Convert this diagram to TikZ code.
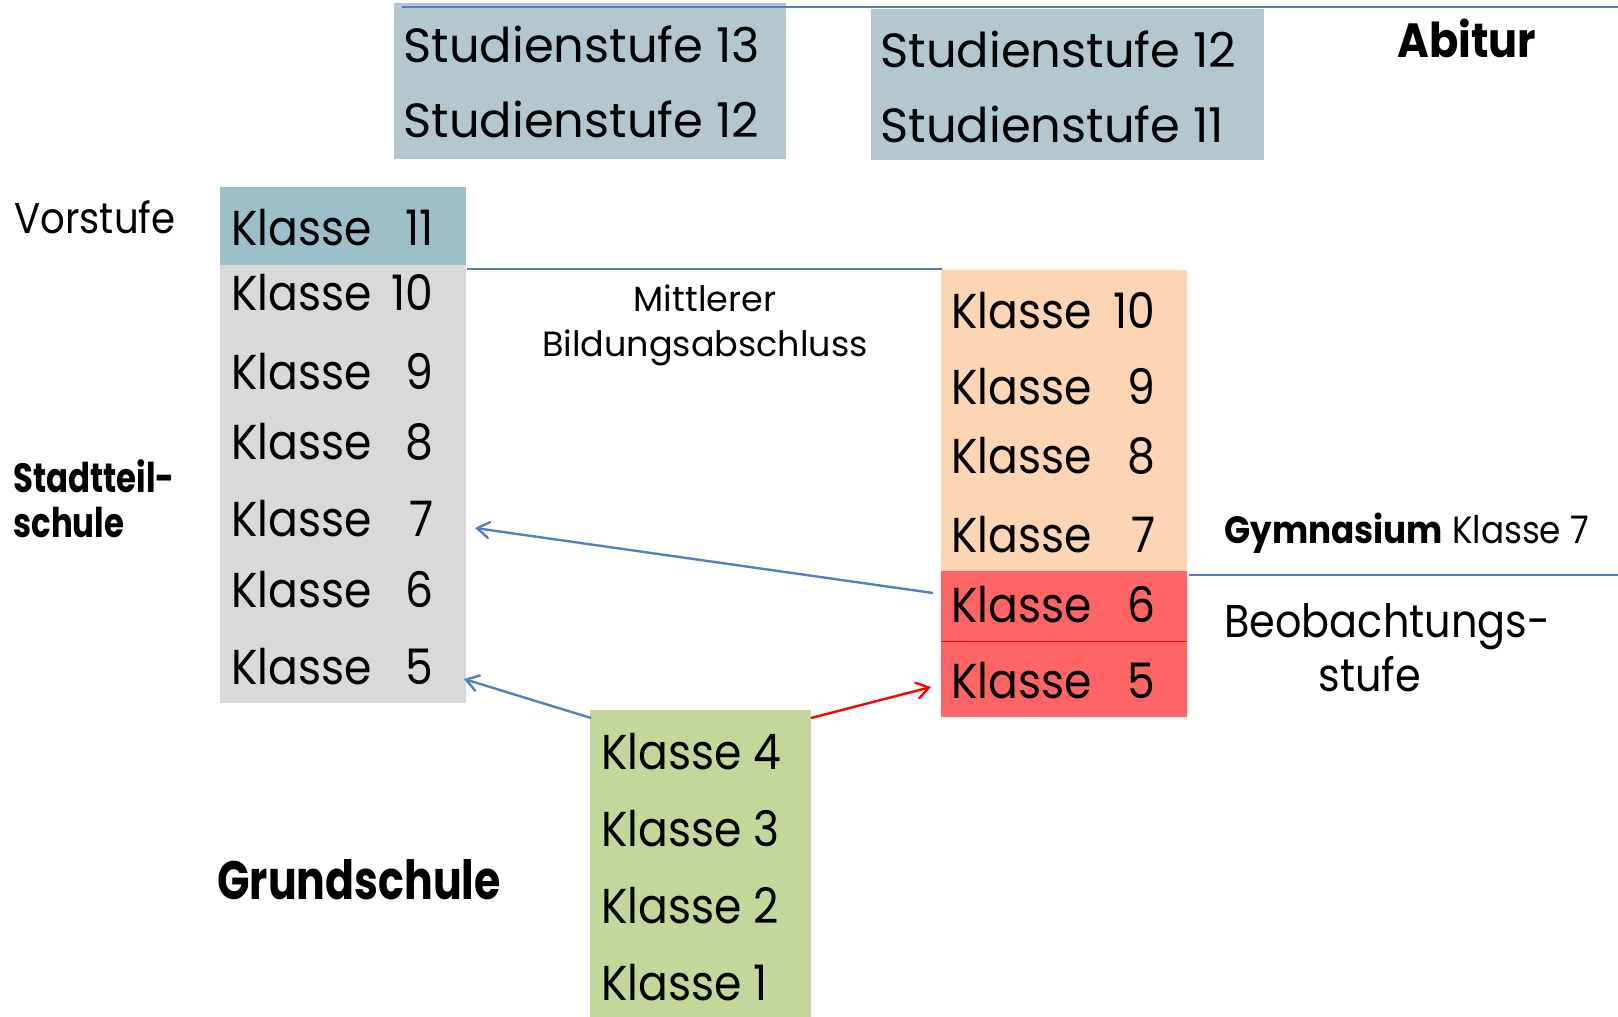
\documentclass[tikz,border=0pt]{standalone}
\usepackage{fontspec}
\setmainfont{Poppins}
\newfontfamily\cgn{Poppins}[FakeStretch=0.9]
\newfontfamily\cgc{Poppins}[FakeStretch=0.79]
\usetikzlibrary{arrows.meta}
\definecolor{studien}{HTML}{B4C7CE}
\definecolor{kelf}{HTML}{9DBFCA}
\definecolor{grau}{HTML}{D9D9D9}
\definecolor{orng}{HTML}{FCD5B5}
\definecolor{rot}{HTML}{FF6565}
\definecolor{gruen}{HTML}{C4D79B}
\definecolor{blau}{HTML}{4F81BD}
\begin{document}
\begin{tikzpicture}[x=0.5pt,y=-0.5pt,
  lbl/.style={anchor=base west,inner sep=0pt},
  txt/.style={lbl,font=\cgn\fontsize{24.5}{28}\selectfont},
  stxt/.style={lbl,font=\fontsize{24}{28}\selectfont},
  smalltxt/.style={anchor=base,inner sep=0pt,font=\fontsize{17.5}{21}\selectfont},
  sepline/.style={draw=blau,line width=1pt},
  arr/.style={line width=1.2pt,-{Straight Barb[length=6pt,width=8pt,line cap=round]}},
]
\useasboundingbox (0,0) rectangle (1618,1017);
% boxes
\fill[studien] (394,3) rectangle (786,159);
\fill[studien] (871,9) rectangle (1264,160);
\fill[kelf] (220,187) rectangle (466,265);
\fill[grau] (220,265) rectangle (466,703);
\fill[orng] (941,270) rectangle (1187,571);
\fill[rot] (941,571) rectangle (1187,717);
\draw[red,line width=0.5pt] (941,641) -- (1187,641);
\fill[gruen] (590,710) rectangle (811,1017);
% lines
\coordinate (t1) at (402,7); \coordinate (t2) at (1618,7);
\draw[sepline] (t1) -- (t2);
\coordinate (m1) at (467,269); \coordinate (m2) at (942,269);
\draw[sepline] (m1) -- (m2);
\coordinate (g1) at (1189,575); \coordinate (g2) at (1618,575);
\draw[sepline] (g1) -- (g2);
% Studienstufen
\node[stxt] (s13) at (403,62) {Studienstufe 13};
\node[stxt] (s12a) at (403,137) {Studienstufe 12};
\node[stxt] (s12b) at (880,68) {Studienstufe 12};
\node[stxt] (s11) at (880,142) {Studienstufe 11};
\node[lbl,font=\cgn\fontsize{24}{28}\selectfont\bfseries] (abi) at (1397,57) {Abitur};
% labels
\node[lbl,font=\cgn\fontsize{21.5}{26}\selectfont] (vor) at (14,233) {Vorstufe};
\node[lbl,font=\cgc\fontsize{20.5}{25}\selectfont\bfseries] (stt1) at (13,492) {Stadtteil-};
\node[lbl,font=\cgc\fontsize{20.5}{25}\selectfont\bfseries] (stt2) at (13,537) {schule};
\node[lbl,font=\cgc\fontsize{27}{32}\selectfont\bfseries] (grund) at (217,899) {Grundschule};
\node[smalltxt] (mit1) at (705,311) {Mittlerer};
\node[smalltxt] (mit2) at (705,356) {Bildungsabschluss};
\node[lbl,font=\cgn\fontsize{19}{23}\selectfont] (gym) at (1224,543) {\textbf{Gymnasium} Klasse 7};
\node[lbl,font=\cgn\fontsize{23}{27}\selectfont] (beo1) at (1224,637) {Beobachtungs-};
\node[lbl,font=\cgn\fontsize{23}{27}\selectfont] (beo2) at (1318,691) {stufe};
% Stadtteilschule column
\node[txt] (k11) at (231,245) {\hbox to 101pt{Klasse\hfill 11}};
\node[txt] (k10) at (231,310) {\hbox to 101pt{Klasse\hfill 10}};
\node[txt] (k9) at (231,389) {\hbox to 101pt{Klasse\hfill 9}};
\node[txt] (k8) at (231,459) {\hbox to 101pt{Klasse\hfill 8}};
\node[txt] (k7) at (231,536) {\hbox to 101pt{Klasse\hfill 7}};
\node[txt] (k6) at (231,607) {\hbox to 101pt{Klasse\hfill 6}};
\node[txt] (k5) at (231,684) {\hbox to 101pt{Klasse\hfill 5}};
% Gymnasium column
\node[txt] (gk10) at (951,328) {\hbox to 102pt{Klasse\hfill 10}};
\node[txt] (gk9) at (951,404) {\hbox to 102pt{Klasse\hfill 9}};
\node[txt] (gk8) at (951,473) {\hbox to 102pt{Klasse\hfill 8}};
\node[txt] (gk7) at (951,552) {\hbox to 102pt{Klasse\hfill 7}};
\node[txt] (gk6) at (951,622) {\hbox to 102pt{Klasse\hfill 6}};
\node[txt] (gk5) at (951,698) {\hbox to 102pt{Klasse\hfill 5}};
% Grundschule column
\node[txt] (gs4) at (601,769) {Klasse 4};
\node[txt] (gs3) at (601,846) {Klasse 3};
\node[txt] (gs2) at (601,923) {Klasse 2};
\node[txt] (gs1) at (601,1000) {Klasse 1};
% arrows
\coordinate (a1s) at (933,593); \coordinate (a1e) at (475,528);
\coordinate (a2s) at (591,718); \coordinate (a2e) at (464,679);
\coordinate (a3s) at (811,718); \coordinate (a3e) at (931,687);
\draw[arr,blau] (a1s) -- (a1e);
\draw[arr,blau] (a2s) -- (a2e);
\draw[arr,red] (a3s) -- (a3e);
\end{tikzpicture}
\end{document}
